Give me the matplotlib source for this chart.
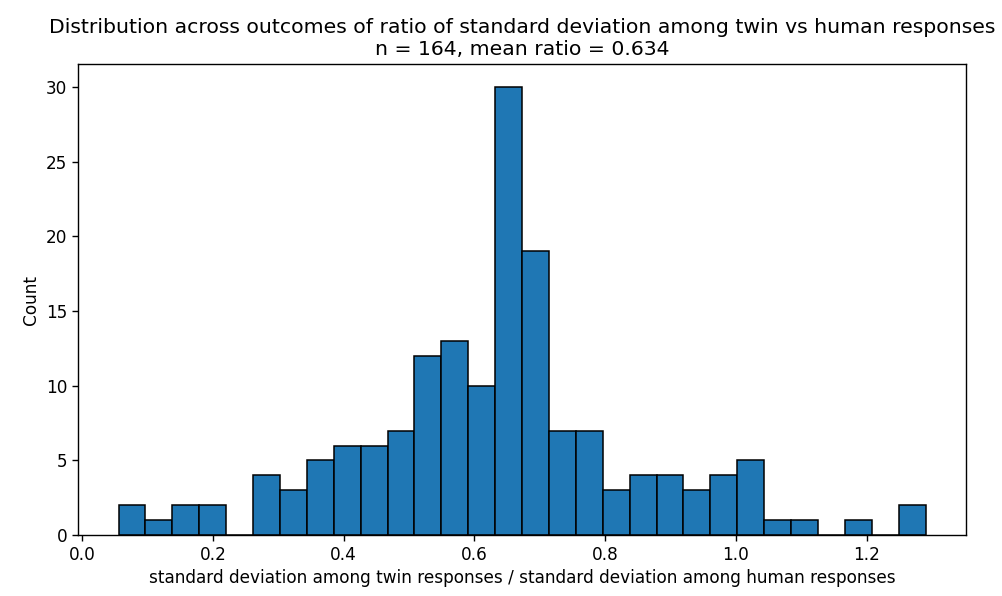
import numpy as np
import matplotlib
matplotlib.use("Agg")
import matplotlib.pyplot as plt

# histogram counts per bin (30 equal-width bins)
counts = [2, 1, 2, 2, 0, 4, 3, 5, 6, 6, 7, 12, 13, 10, 30,
          19, 7, 7, 3, 4, 4, 3, 4, 5, 1, 1, 0, 1, 0, 2]
ratio_min = 0.0557
ratio_max = 1.290
n_total = 164
mean_ratio = 0.634

edges = np.linspace(ratio_min, ratio_max, len(counts) + 1)
centers = (edges[:-1] + edges[1:]) / 2

plt.rcParams['font.size'] = 12.2
plt.rcParams['axes.linewidth'] = 1.0
plt.rcParams['xtick.major.width'] = 1.0
plt.rcParams['ytick.major.width'] = 1.0
plt.rcParams['xtick.major.size'] = 4.2
plt.rcParams['ytick.major.size'] = 4.2

fig, ax = plt.subplots(figsize=(10.02, 5.96), dpi=100)
fig.subplots_adjust(left=0.078, right=0.964, top=0.892, bottom=0.102)

ax.hist(centers, bins=edges, weights=counts, color='#1f77b4', edgecolor='black', linewidth=1.1)

ax.set_title('Distribution across outcomes of ratio of standard deviation among twin vs human responses\n'
             'n = %d, mean ratio = %.3f' % (n_total, mean_ratio), fontsize=14.7, pad=7)
ax.set_xlabel('standard deviation among twin responses / standard deviation among human responses')
ax.set_ylabel('Count')

plt.savefig('out.png', dpi=100)
